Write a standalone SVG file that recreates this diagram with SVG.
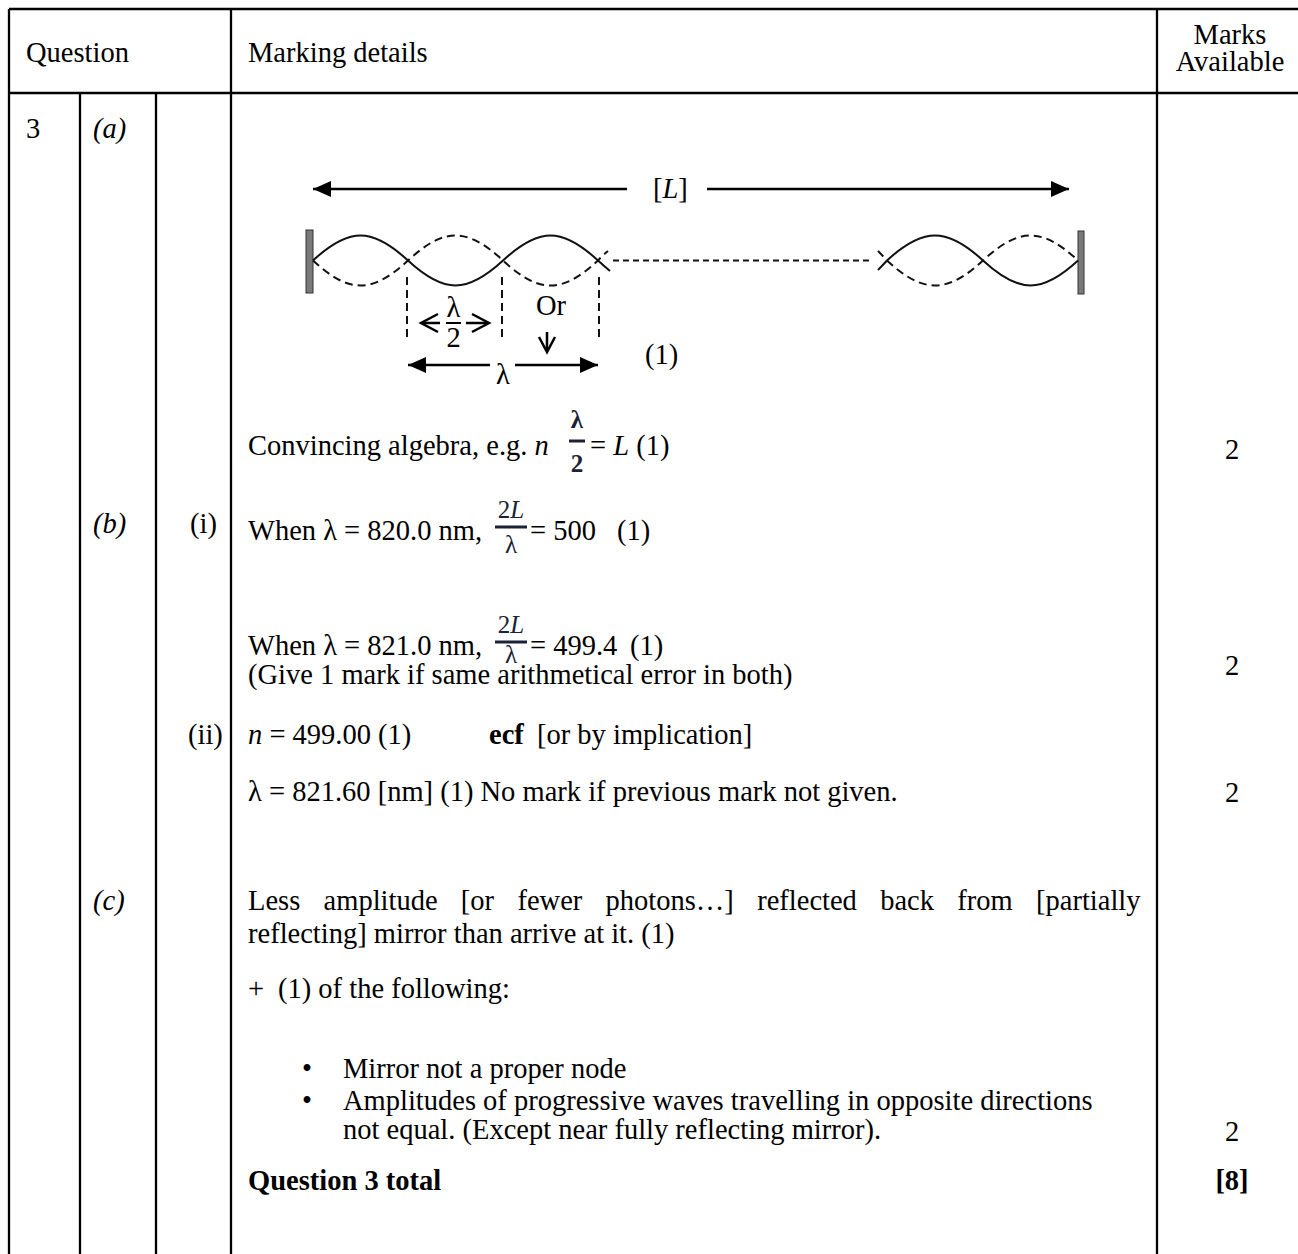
<svg xmlns="http://www.w3.org/2000/svg" width="1298" height="1254" viewBox="0 0 1298 1254">
<style>
.t{font-family:"Liberation Serif","Times New Roman",serif;font-size:28.5px;fill:#000}
.i{font-style:italic}
.b{font-weight:bold}
.m{font-family:"Liberation Serif","Times New Roman",serif;font-size:25px;fill:#1b2136}
.grid{stroke:#000;stroke-width:2.3;fill:none}
.w{stroke:#111;stroke-width:2;fill:none}
.wd{stroke:#111;stroke-width:2;fill:none;stroke-dasharray:8 5}
.ln{stroke:#000;stroke-width:2.5;fill:none}
</style>
<defs>
<marker id="ah" markerUnits="userSpaceOnUse" markerWidth="20" markerHeight="16" refX="18" refY="8" orient="auto-start-reverse">
<path d="M0,0 L18,8 L0,16 Z" fill="#000"/>
</marker>
</defs>
<rect width="1298" height="1254" fill="#fff"/>
<g id="table" class="grid">
<line x1="9" y1="9" x2="1298" y2="9"/>
<line x1="9" y1="93" x2="1298" y2="93"/>
<line x1="9" y1="9" x2="9" y2="1254"/>
<line x1="80" y1="93" x2="80" y2="1254"/>
<line x1="156" y1="93" x2="156" y2="1254"/>
<line x1="231" y1="9" x2="231" y2="1254"/>
<line x1="1157" y1="9" x2="1157" y2="1254"/>
</g>
<g id="header">
<text class="t" x="26" y="62">Question</text>
<text class="t" x="248" y="62">Marking details</text>
<text class="t" x="1230" y="44" text-anchor="middle">Marks</text>
<text class="t" x="1230" y="71" text-anchor="middle">Available</text>
</g>
<g id="labels">
<text class="t" x="26" y="138">3</text>
<text class="t i" x="93" y="138">(a)</text>
<text class="t i" x="93" y="533">(b)</text>
<text class="t" x="190" y="533">(i)</text>
<text class="t" x="188" y="744">(ii)</text>
<text class="t i" x="93" y="910">(c)</text>
</g>
<g id="diagram">
<rect x="306" y="230" width="7" height="63" fill="#7a7a7a" stroke="#333" stroke-width="1"/>
<rect x="1078" y="231" width="6" height="63" fill="#7a7a7a" stroke="#333" stroke-width="1"/>
<path class="w" d="M313,260.5 C349,227.2 372,227.2 408,260.5 C444,293.8 467,293.8 503,260.5 C539,227.2 562,227.2 598,260.5 Q604,266 610,271"/>
<path class="wd" d="M313,260.5 C349,293.8 372,293.8 408,260.5 C444,227.2 467,227.2 503,260.5 C539,293.8 562,293.8 598,260.5 Q603,255 608,251"/>
<line x1="613" y1="260.5" x2="872" y2="260.5" stroke="#111" stroke-width="1.8" stroke-dasharray="6 4"/>
<path class="w" d="M878,270 Q882,266 887,260.5 C923,227.2 947,227.2 983,260.5 C1019,293.8 1042,293.8 1078,260.5"/>
<path class="wd" d="M878,251 Q882,255 887,260.5 C923,293.8 947,293.8 983,260.5 C1019,227.2 1042,227.2 1078,260.5"/>
<line class="ln" x1="627" y1="189" x2="313" y2="189" marker-end="url(#ah)"/>
<line class="ln" x1="707" y1="189" x2="1069" y2="189" marker-end="url(#ah)"/>
<text class="t" x="653" y="198">[<tspan class="i">L</tspan>]</text>
<g class="wd">
<line x1="407" y1="277" x2="407" y2="340"/>
<line x1="502" y1="277" x2="502" y2="340"/>
<line x1="599" y1="277" x2="599" y2="340"/>
</g>
<g class="ln" stroke-width="2.2">
<polyline points="438,314 421,323 438,332"/>
<line x1="422" y1="323" x2="440" y2="323"/>
<line x1="466" y1="323" x2="488" y2="323"/>
<polyline points="472,314 489,323 472,332"/>
<line x1="547" y1="332" x2="547" y2="351"/>
<polyline points="539,337 547,352 555,337"/>
</g>
<text class="t" x="453.5" y="317" text-anchor="middle" font-size="26">λ</text>
<line x1="446" y1="323" x2="461" y2="323" stroke="#000" stroke-width="2"/>
<text class="t" x="453.5" y="347" text-anchor="middle" font-size="26">2</text>
<text class="t" x="536" y="315">Or</text>
<line class="ln" x1="490" y1="365" x2="408" y2="365" marker-end="url(#ah)"/>
<text class="t" x="496" y="384">λ</text>
<line class="ln" x1="515" y1="365" x2="598" y2="365" marker-end="url(#ah)"/>
<text class="t" x="645" y="364">(1)</text>
</g>
<g id="marking">
<text class="t" x="248" y="455">Convincing algebra, e.g. <tspan class="i">n</tspan></text>
<text class="m b" x="577" y="428" text-anchor="middle">λ</text>
<line x1="569" y1="441" x2="585" y2="441" stroke="#1b2136" stroke-width="3"/>
<text class="m b" x="577" y="472" text-anchor="middle">2</text>
<text class="t" x="590" y="455">= <tspan class="i">L</tspan> (1)</text>
<text class="t" x="248" y="540">When λ = 820.0 nm,</text>
<text class="m" x="511" y="518" text-anchor="middle">2<tspan class="i">L</tspan></text>
<line x1="495" y1="527" x2="527" y2="527" stroke="#1b2136" stroke-width="3"/>
<text class="m" x="511" y="553" text-anchor="middle">λ</text>
<text class="t" x="530" y="540">= 500</text>
<text class="t" x="617" y="540">(1)</text>
<text class="t" x="248" y="655">When λ = 821.0 nm,</text>
<text class="m" x="511" y="633" text-anchor="middle">2<tspan class="i">L</tspan></text>
<line x1="495" y1="642" x2="527" y2="642" stroke="#1b2136" stroke-width="3"/>
<text class="m" x="511" y="663" text-anchor="middle" font-size="22">λ</text>
<text class="t" x="530" y="655">= 499.4</text>
<text class="t" x="630" y="655">(1)</text>
<text class="t" x="248" y="684">(Give 1 mark if same arithmetical error in both)</text>
<text class="t" x="248" y="744"><tspan class="i">n</tspan> = 499.00 (1)</text>
<text class="t b" x="489" y="744">ecf</text>
<text class="t" x="537" y="744">[or by implication]</text>
<text class="t" x="248" y="801">λ = 821.60 [nm] (1) No mark if previous mark not given.</text>
<text class="t" x="248" y="910" word-spacing="16.2">Less amplitude [or fewer photons…] reflected back from [partially</text>
<text class="t" x="248" y="943">reflecting] mirror than arrive at it. (1)</text>
<text class="t" x="248" y="998">+</text>
<text class="t" x="278" y="998">(1) of the following:</text>
<text class="t" x="302" y="1078">•</text>
<text class="t" x="343" y="1078">Mirror not a proper node</text>
<text class="t" x="302" y="1110">•</text>
<text class="t" x="343" y="1110">Amplitudes of progressive waves travelling in opposite directions</text>
<text class="t" x="343" y="1139">not equal. (Except near fully reflecting mirror).</text>
<text class="t b" x="248" y="1190">Question 3 total</text>
</g>
<g id="marks">
<text class="t" x="1232" y="459" text-anchor="middle">2</text>
<text class="t" x="1232" y="675" text-anchor="middle">2</text>
<text class="t" x="1232" y="802" text-anchor="middle">2</text>
<text class="t" x="1232" y="1141" text-anchor="middle">2</text>
<text class="t b" x="1232" y="1190" text-anchor="middle">[8]</text>
</g>
</svg>
